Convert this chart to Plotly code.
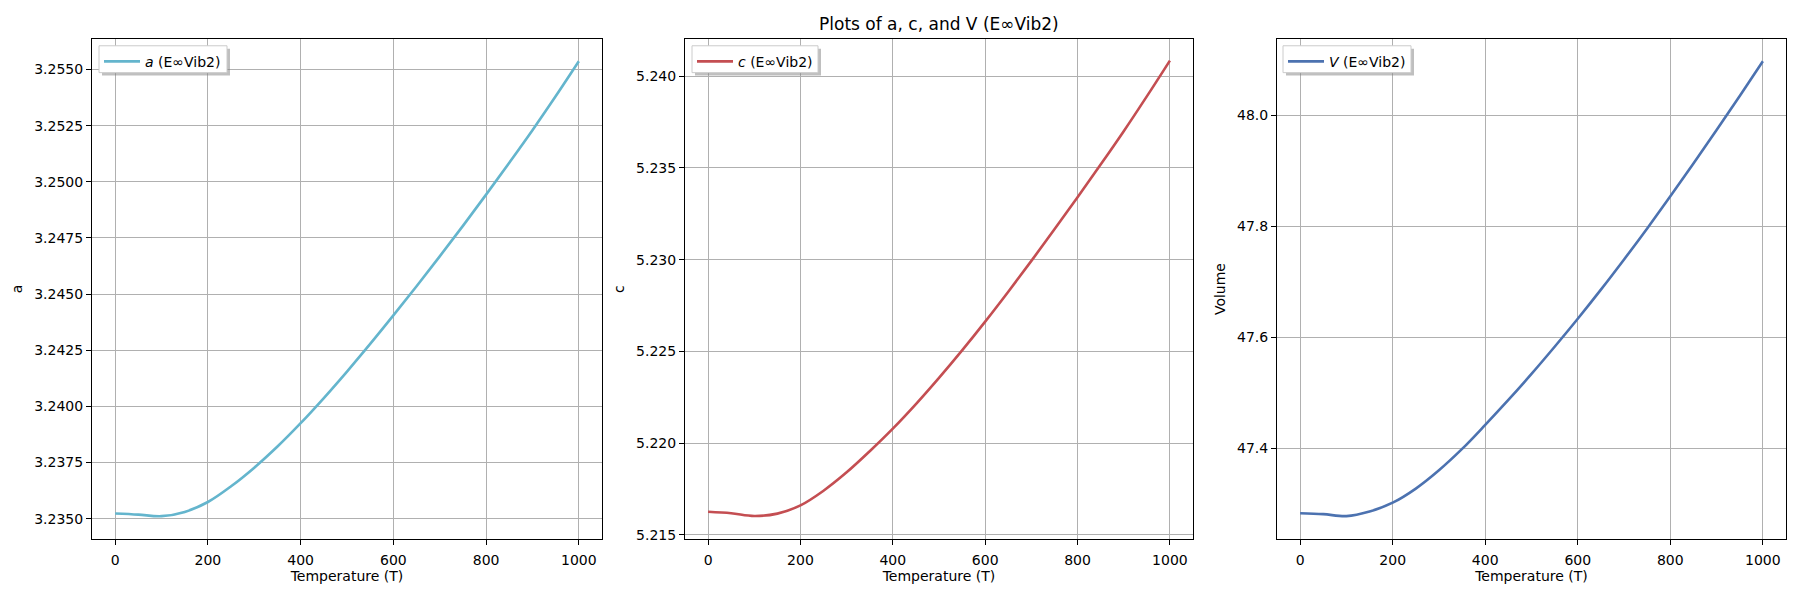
import plotly.graph_objects as go

# ---------------- data ----------------
temperature = [0, 50, 100, 150, 200, 250, 300, 350, 400, 450, 500,
               550, 600, 650, 700, 750, 800, 850, 900, 950, 1000]

a_values = [3.23523, 3.23518, 3.23511, 3.23530, 3.23574, 3.23644, 3.23727,
            3.23821, 3.23925, 3.24037, 3.24155, 3.24278, 3.24405, 3.24535,
            3.24668, 3.24804, 3.24943, 3.25085, 3.25230, 3.25381, 3.25537]

c_values = [5.21625, 5.21617, 5.21602, 5.21615, 5.21660, 5.21740, 5.21840,
            5.21955, 5.22078, 5.22212, 5.22355, 5.22505, 5.22662, 5.22825,
            5.22993, 5.23165, 5.23340, 5.23518, 5.23700, 5.23890, 5.24085]

v_values = [47.2825, 47.2808, 47.2772, 47.2855, 47.3014, 47.3269, 47.3599,
            47.3984, 47.4418, 47.4868, 47.5338, 47.5828, 47.6333, 47.6858,
            47.7403, 47.7963, 47.8542, 47.9134, 47.9738, 48.0352, 48.0979]

series_names = ["<i>a</i> (E∞Vib2)", "<i>c</i> (E∞Vib2)", "<i>V</i> (E∞Vib2)"]
y_titles = ["a", "c", "Volume"]
x_title = "Temperature (T)"
title_text = "Plots of a, c, and V (E∞Vib2)"
x_ticks = [0, 200, 400, 600, 800, 1000]

# ---------------- styling / layout ----------------
W, H = 1800, 600
FONT = "DejaVu Sans"
colors = ["#64b5cd", "#c44e52", "#4c72b0"]
panel_px = [(92, 602), (685, 1193), (1277, 1786)]
top_px, bottom_px = 39, 542
y_ranges = [(3.23408, 3.25637), (5.21475, 5.24204), (47.2354, 48.1384)]
y_dticks = [0.0025, 0.005, 0.2]
y_formats = [".4f", ".3f", ".1f"]
legend_boxes = [(99, 46, 227, 73), (692, 46, 818, 73), (1283, 46, 1411, 73)]
series = [a_values, c_values, v_values]

fig = go.Figure()
layout = dict(
    width=W, height=H,
    margin=dict(l=0, r=0, t=0, b=0),
    paper_bgcolor="white", plot_bgcolor="white",
    font=dict(family=FONT, size=14, color="black"),
    showlegend=True,
)


def px_x(v):
    return v / W


def px_y(v):
    return 1 - v / H


shapes = []
for i in range(3):
    sfx = "" if i == 0 else str(i + 1)
    xa, ya = "x" + sfx, "y" + sfx
    leg = "legend" + sfx
    fig.add_trace(go.Scatter(
        x=temperature, y=series[i], mode="lines",
        line=dict(color=colors[i], width=2.6, shape="spline", smoothing=1.0),
        name=series_names[i], xaxis=xa, yaxis=ya, legend=leg,
    ))
    l, r = panel_px[i]
    common = dict(
        showline=True, linecolor="black", linewidth=1.1, mirror=True,
        ticks="outside", ticklen=5, tickwidth=1, tickcolor="black",
        showgrid=True, gridcolor="#b0b0b0", gridwidth=1,
        zeroline=False, tickfont=dict(size=14, family=FONT),
    )
    layout["xaxis" + sfx] = dict(
        common, domain=[l / W, r / W], anchor=ya, range=[-50, 1050],
        tickvals=x_ticks, ticklabelstandoff=3,
        title=dict(text=x_title, font=dict(size=14), standoff=4),
    )
    layout["yaxis" + sfx] = dict(
        common, domain=[1 - bottom_px / H, 1 - top_px / H], anchor=xa,
        range=list(y_ranges[i]), dtick=y_dticks[i], tick0=0,
        tickformat=y_formats[i],
        title=dict(text=y_titles[i], font=dict(size=14), standoff=8),
    )
    bx0, by0, bx1, by1 = legend_boxes[i]
    # legend frame: shadow + white box (matplotlib style), entries from plotly legend
    shapes.append(dict(
        type="rect", xref="paper", yref="paper", layer="above",
        x0=px_x(bx0 + 3), x1=px_x(bx1 + 3), y0=px_y(by1 + 3), y1=px_y(by0 + 3),
        fillcolor="rgba(128,128,128,0.5)", line=dict(width=0),
    ))
    shapes.append(dict(
        type="rect", xref="paper", yref="paper", layer="above",
        x0=px_x(bx0), x1=px_x(bx1), y0=px_y(by1), y1=px_y(by0),
        fillcolor="white", line=dict(color="#cccccc", width=1),
    ))
    layout[leg] = dict(
        x=px_x(bx0), y=px_y(by0), xanchor="left", yanchor="top",
        bgcolor="rgba(0,0,0,0)", borderwidth=0,
        font=dict(size=14, family=FONT), itemwidth=36,
        tracegroupgap=0,
    )

layout["shapes"] = shapes
layout["annotations"] = [dict(
    text=title_text, xref="paper", yref="paper",
    x=((685 + 1193) / 2) / W, y=1 - 24 / H, xanchor="center", yanchor="middle",
    showarrow=False, font=dict(size=17, family=FONT),
)]
fig.update_layout(**layout)
fig.write_html("out.html")
